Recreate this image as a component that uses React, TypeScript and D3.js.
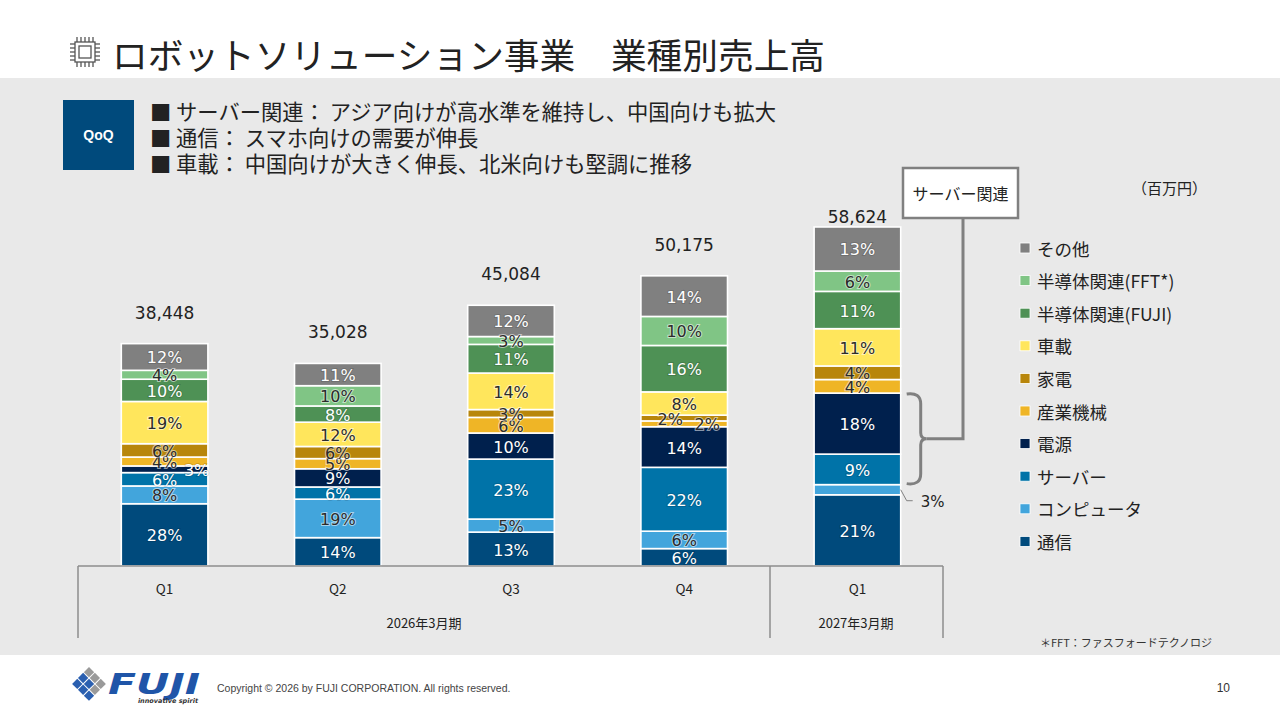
import * as d3 from "d3";
import React from "react";

// 期間・売上高（百万円）
const periods = ["2026Q1", "2026Q2", "2026Q3", "2026Q4", "2027Q1"];
const tickLabels = ["Q1", "Q2", "Q3", "Q4", "Q1"];
const totals = [38448, 35028, 45084, 50175, 58624];

// 業種（下から積み上げ順）
const categories = [
  "通信",
  "コンピュータ",
  "サーバー",
  "電源",
  "産業機械",
  "家電",
  "車載",
  "半導体関連(FUJI)",
  "半導体関連(FFT*)",
  "その他",
];

// 構成比（%）
const tsushin = [28, 14, 13, 6, 21];
const computer = [8, 19, 5, 6, 3];
const server = [6, 6, 23, 22, 9];
const dengen = [3, 9, 10, 14, 18];
const sangyo = [4, 5, 6, 2, 4];
const kaden = [6, 6, 3, 2, 4];
const shasai = [19, 12, 14, 8, 11];
const handoFuji = [10, 8, 11, 16, 11];
const handoFft = [4, 10, 3, 10, 6];
const sonota = [12, 11, 12, 14, 13];

const shares = [tsushin, computer, server, dengen, sangyo, kaden, shasai, handoFuji, handoFft, sonota];

const colors = [
  "#004a7c",
  "#42a5dc",
  "#0073a8",
  "#00204d",
  "#efb526",
  "#b8860b",
  "#ffe65c",
  "#4e9155",
  "#80c585",
  "#808080",
];
const darkText = new Set(["コンピュータ", "産業機械", "家電", "車載", "半導体関連(FFT*)"]);

const bullets = [
  "■ サーバー関連： アジア向けが高水準を維持し、中国向けも拡大",
  "■ 通信： スマホ向けの需要が伸長",
  "■ 車載： 中国向けが大きく伸長、北米向けも堅調に推移",
];

const JP = "'Noto Sans CJK JP', 'Noto Sans', sans-serif";
const NUM = "'DejaVu Sans', Verdana, sans-serif";

type Row = { period: string; [k: string]: number | string };

const rows: Row[] = periods.map((p, i) => {
  const r: Row = { period: p };
  categories.forEach((c, j) => {
    r[c] = (totals[i] * shares[j][i]) / 100;
  });
  return r;
});

const x = d3.scaleBand<string>().domain(periods).range([78, 944]).paddingInner(0.5).paddingOuter(0.25);
const y = d3.scaleLinear().domain([0, 60000]).range([566, 219]);
const color = d3.scaleOrdinal<string, string>().domain(categories).range(colors);

const stacked = d3.stack<Row>().keys(categories)(rows);

// ラベルのずらし（小さい区分）
const labelDx: Record<string, number> = {
  "電源-0": 32,
  "家電-3": -14,
  "産業機械-3": 23,
};
const hiddenLabel = new Set(["コンピュータ-4"]);

const Chip = () => (
  <g transform="translate(70,37)" fill="none" stroke="#555" strokeWidth={1.3}>
    <rect x={5} y={5} width={20} height={20} />
    <rect x={9} y={9} width={12} height={12} />
    {d3.range(5).map((k) => (
      <g key={k}>
        <line x1={7 + k * 4} x2={7 + k * 4} y1={0} y2={5} />
        <line x1={7 + k * 4} x2={7 + k * 4} y1={25} y2={30} />
        <line y1={7 + k * 4} y2={7 + k * 4} x1={0} x2={5} />
        <line y1={7 + k * 4} y2={7 + k * 4} x1={25} x2={30} />
      </g>
    ))}
  </g>
);

const Logo = () => {
  const cells = d3.cross(d3.range(3), d3.range(3));
  return (
    <g>
      <g transform="translate(89,667) rotate(45)">
        {cells.map(([r, c]) => (
          <rect
            key={`${r}-${c}`}
            x={c * 8.3}
            y={r * 8.3}
            width={7.3}
            height={7.3}
            fill={r === 0 ? "#9a9a9a" : c === 2 && r === 1 ? "#9a9a9a" : "#2a5fb0"}
          />
        ))}
      </g>
      <text
        x={108}
        y={694}
        fontFamily="'DejaVu Sans', sans-serif"
        fontWeight={900}
        fontStyle="italic"
        fontSize={28}
        fill="#1f55a8"
        textLength={92}
        lengthAdjust="spacingAndGlyphs"
      >
        FUJI
      </text>
      <text x={198} y={703} textAnchor="end" fontFamily="'DejaVu Sans', sans-serif" fontStyle="italic" fontWeight={700} fontSize={6.5} fill="#333">
        innovative spirit
      </text>
    </g>
  );
};

export default function App() {
  const axisY = y(0);
  return (
    <svg width={1280} height={720} style={{ position: "absolute", left: 0, top: 0 }}>
      <rect width={1280} height={720} fill="#ffffff" />
      <rect y={78} width={1280} height={577} fill="#e9e9e9" />

      {/* タイトル */}
      <Chip />
      <text x={112} y={53} dominantBaseline="central" fontFamily={JP} fontSize={35.7} fill="#222">
        ロボットソリューション事業　業種別売上高
      </text>

      {/* QoQ コメント */}
      <rect x={63} y={100} width={71} height={70} fill="#004a7c" />
      <text x={98.5} y={135} textAnchor="middle" dominantBaseline="central" fontFamily="'Liberation Sans', Arial, sans-serif" fontWeight={700} fontSize={14} fill="#fff">
        QoQ
      </text>
      {bullets.map((b, i) => (
        <text key={b} x={150} y={110 + i * 26} dominantBaseline="central" fontFamily={JP} fontSize={21.3} fill="#222">
          {b}
        </text>
      ))}

      {/* 積み上げ棒 */}
      {stacked.map((series) => (
        <g key={series.key}>
          {series.map((d, i) => (
            <rect
              key={i}
              x={x(periods[i])}
              y={y(d[1])}
              width={x.bandwidth()}
              height={y(d[0]) - y(d[1])}
              fill={color(series.key)}
              stroke="#fff"
              strokeWidth={1.6}
            />
          ))}
        </g>
      ))}
      {stacked.map((series, j) => (
        <g key={`lbl-${series.key}`}>
          {series.map((d, i) => {
            const id = `${series.key}-${i}`;
            if (hiddenLabel.has(id)) return null;
            const dark = darkText.has(series.key);
            return (
              <text
                key={id}
                x={x(periods[i])! + x.bandwidth() / 2 + (labelDx[id] ?? 0)}
                y={(y(d[0]) + y(d[1])) / 2 + 1}
                textAnchor="middle"
                dominantBaseline="central"
                fontFamily={NUM}
                fontSize={16}
                fill={dark ? "#2b2b2b" : "#ffffff"}
                stroke={dark ? "rgba(255,255,255,0.55)" : "rgba(0,0,0,0.15)"}
                strokeWidth={2}
                paintOrder="stroke"
              >
                {shares[j][i]}%
              </text>
            );
          })}
        </g>
      ))}

      {/* 合計 */}
      {totals.map((t, i) => (
        <text
          key={`t${i}`}
          x={x(periods[i])! + x.bandwidth() / 2}
          y={y(t) - (i === totals.length - 1 ? 10 : 31)}
          textAnchor="middle"
          dominantBaseline="central"
          fontFamily={NUM}
          fontSize={17}
          fill="#222"
        >
          {d3.format(",")(t)}
        </text>
      ))}

      {/* コンピュータ 3% 引き出し */}
      {(() => {
        const s = stacked[categories.indexOf("コンピュータ")][4];
        const ym = (y(s[0]) + y(s[1])) / 2;
        const xr = x(periods[4])! + x.bandwidth();
        return (
          <g>
            <polyline points={`${xr},${ym} ${xr + 6},${ym + 11} ${xr + 12},${ym + 11}`} fill="none" stroke="#808080" strokeWidth={1} />
            <text x={xr + 20} y={ym + 12} dominantBaseline="central" fontFamily={NUM} fontSize={15} fill="#222">
              {computer[4]}%
            </text>
          </g>
        );
      })()}

      {/* サーバー関連 ブラケット */}
      {(() => {
        const top = y(stacked[categories.indexOf("電源")][4][1]) + 1;
        const bot = y(stacked[categories.indexOf("サーバー")][4][0]) - 1;
        const mid = (top + bot) / 2;
        const bx = x(periods[4])! + x.bandwidth() + 6;
        const vx = bx + 14;
        return (
          <g fill="none" stroke="#808080" strokeWidth={3}>
            <path
              d={`M${bx},${top} Q${vx},${top - 2} ${vx},${top + 10} L${vx},${mid - 6} Q${vx},${mid} ${vx + 6},${mid}
                  M${vx + 6},${mid} Q${vx},${mid} ${vx},${mid + 6} L${vx},${bot - 10} Q${vx},${bot + 2} ${bx},${bot}`}
            />
            <polyline points={`${vx + 6},${mid} 963,${mid} 963,218`} />
          </g>
        );
      })()}
      <rect x={903} y={168} width={115} height={50} fill="#fff" stroke="#808080" strokeWidth={2.5} />
      <text x={960.5} y={193} textAnchor="middle" dominantBaseline="central" fontFamily={JP} fontSize={16} fill="#222">
        サーバー関連
      </text>

      <text x={1132} y={187} dominantBaseline="central" fontFamily={JP} fontSize={15} fill="#222">
        （百万円）
      </text>

      {/* 凡例 */}
      {[...categories].reverse().map((c, k) => (
        <g key={`lg-${c}`} transform={`translate(1020,${248 + k * 32.6})`}>
          <rect x={0} y={-5} width={10} height={10} fill={color(c)} stroke="#fff" strokeWidth={0.8} />
          <text x={17} y={0} dominantBaseline="central" fontFamily={JP} fontSize={17.5} fill="#222">
            {c}
          </text>
        </g>
      ))}

      {/* 横軸 */}
      <g stroke="#8c8c8c" strokeWidth={1.5}>
        <line x1={78} x2={943} y1={axisY} y2={axisY} />
        <line x1={78} x2={78} y1={axisY} y2={638} />
        <line x1={770} x2={770} y1={axisY} y2={638} />
        <line x1={943} x2={943} y1={axisY} y2={638} />
      </g>
      {periods.map((p, i) => (
        <text key={`q${p}`} x={x(p)! + x.bandwidth() / 2} y={588} textAnchor="middle" dominantBaseline="central" fontFamily={JP} fontSize={13.5} fill="#222">
          {tickLabels[i]}
        </text>
      ))}
      <text x={424} y={622} textAnchor="middle" dominantBaseline="central" fontFamily={JP} fontSize={13} fill="#222">
        2026年3月期
      </text>
      <text x={856} y={622} textAnchor="middle" dominantBaseline="central" fontFamily={JP} fontSize={13} fill="#222">
        2027年3月期
      </text>

      <text x={1040} y={642} dominantBaseline="central" fontFamily={JP} fontSize={11} fill="#333">
        ＊FFT：ファスフォードテクノロジ
      </text>

      {/* フッター */}
      <Logo />
      <text x={217} y={688} dominantBaseline="central" fontFamily="'Liberation Sans', Arial, sans-serif" fontSize={10.5} fill="#444">
        Copyright © 2026 by FUJI CORPORATION. All rights reserved.
      </text>
      <text x={1230} y={688} textAnchor="end" dominantBaseline="central" fontFamily="'Liberation Sans', Arial, sans-serif" fontSize={12} fill="#333">
        10
      </text>
    </svg>
  );
}
